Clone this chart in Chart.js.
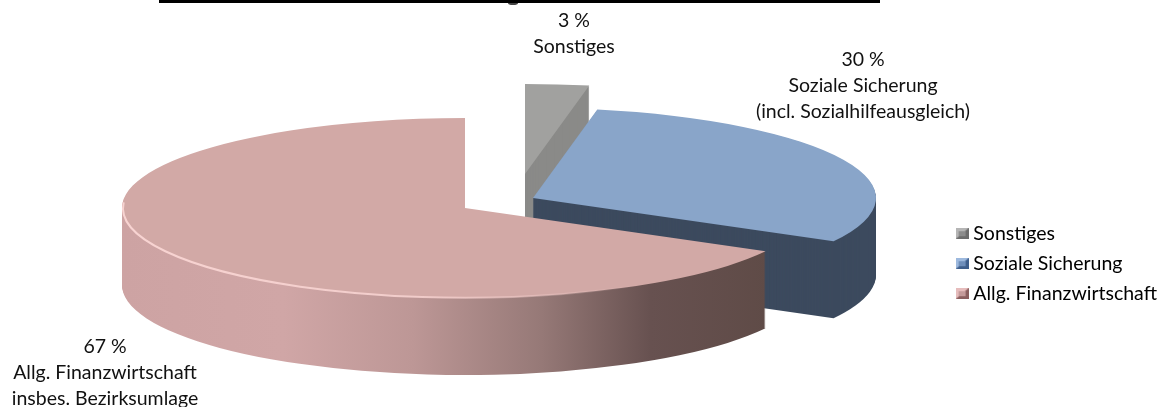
<!DOCTYPE html>
<html>
<head>
<meta charset="utf-8">
<title>Ausgaben</title>
<script src="https://cdn.jsdelivr.net/npm/chart.js@4"></script>
<style>
  html, body { margin: 0; padding: 0; background: #fff; }
  #wrap { width: 1160px; height: 407px; position: relative; }
</style>
</head>
<body>
<div id="wrap"><canvas id="myChart"></canvas></div>
<script>
  'use strict';

  /* Data */
  const categories = ['Sonstiges', 'Soziale Sicherung', 'Allg. Finanzwirtschaft'];
  const values = [3, 30, 67];
  const labelNotes = [
    ['Sonstiges'],
    ['Soziale Sicherung', '(incl. Sozialhilfeausgleich)'],
    ['Allg. Finanzwirtschaft', 'insbes. Bezirksumlage']
  ];

  /* Look */
  const FONT = 'Lato, "Open Sans", sans-serif';
  const FONT_SIZE = 19.5;
  const topColors = ['#a1a19f', '#89a5c9', '#d2a9a6'];
  const sideColors = ['#8a8a88', '#3c4a5e', null];
  const swatchColors = [
    ['#b5b5b5', '#6d6d6d', '#8c8c8c'],
    ['#9db9de', '#3f5f8c', '#6f8fbb'],
    ['#e6bcbc', '#8a5f5f', '#c49a9a']
  ];
  const squash = 90 / 343;
  const depth = 77;
  const pieCenter = [465, 208];
  // how far each slice is pulled out of the pie, in pixels on screen
  const explode = [[60, -34], [68, -10], [0, 0]];
  const labelAnchors = [[574, 21], [863, 60], [105, 347]];

  function makeSwatch(colors) {
    const c = document.createElement('canvas');
    c.width = 13;
    c.height = 11;
    const g = c.getContext('2d');
    g.fillStyle = colors[2];
    g.fillRect(0, 0, 13, 11);
    g.fillStyle = colors[0];
    g.beginPath();
    g.moveTo(0, 0); g.lineTo(13, 0); g.lineTo(6.5, 5.5); g.lineTo(0, 11);
    g.fill();
    g.fillStyle = colors[1];
    g.beginPath();
    g.moveTo(6.5, 5.5); g.lineTo(13, 0); g.lineTo(13, 11); g.lineTo(0, 11);
    g.fill();
    g.fillStyle = colors[2];
    g.fillRect(3, 3, 7, 5);
    return c;
  }
  const swatches = swatchColors.map(makeSwatch);

  function sectorPath(ctx, arc) {
    ctx.beginPath();
    ctx.moveTo(arc.x, arc.y);
    ctx.arc(arc.x, arc.y, arc.outerRadius, arc.startAngle, arc.endAngle);
    ctx.closePath();
  }

  function squashAround(ctx, arc) {
    ctx.translate(arc.x, arc.y);
    ctx.scale(1, squash);
    ctx.translate(-arc.x, -arc.y);
  }

  function pinkSide(ctx, arc) {
    // the context is shifted by the chart's own centre, keep the gradient on the slice
    const left = arc.x - arc.outerRadius;
    const grad = ctx.createLinearGradient(left, 0, left + 645, 0);
    grad.addColorStop(0, '#cda3a3');
    grad.addColorStop(0.25, '#d0a6a6');
    grad.addColorStop(0.45, '#bd9796');
    grad.addColorStop(0.65, '#967977');
    grad.addColorStop(0.82, '#675150');
    grad.addColorStop(1, '#5f4b47');
    return grad;
  }

  const pie3d = {
    id: 'pie3d',
    afterLayout(chart) {
      chart.legend.left += 7;
    },
    // the library's arcs are drawn here, each one on its own side wall
    beforeDatasetDraw(chart, args) {
      const ctx = chart.ctx;
      args.meta.data.forEach(function (arc, i) {
        ctx.save();
        ctx.translate(pieCenter[0] - arc.x + explode[i][0], pieCenter[1] - arc.y + explode[i][1]);

        ctx.fillStyle = sideColors[i] || pinkSide(ctx, arc);
        for (let d = depth; d > 0; d--) {
          ctx.save();
          ctx.translate(0, d);
          squashAround(ctx, arc);
          sectorPath(ctx, arc);
          ctx.restore();
          ctx.fill();
        }

        ctx.save();
        squashAround(ctx, arc);
        arc.draw(ctx);
        ctx.restore();

        // light edge along the front of the big slice
        if (i === 2) {
          ctx.save();
          squashAround(ctx, arc);
          ctx.beginPath();
          ctx.arc(arc.x, arc.y, arc.outerRadius - 1, arc.startAngle, Math.PI * 1.02);
          ctx.restore();
          const left = arc.x - arc.outerRadius;
          const shine = ctx.createLinearGradient(left, 0, left + 520, 0);
          shine.addColorStop(0, 'rgba(248,212,210,1)');
          shine.addColorStop(0.55, 'rgba(248,212,210,0.85)');
          shine.addColorStop(1, 'rgba(248,212,210,0)');
          ctx.strokeStyle = shine;
          ctx.lineWidth = 2;
          ctx.stroke();
        }
        ctx.restore();
      });
      return false;
    },
    afterDraw(chart) {
      const ctx = chart.ctx;
      ctx.save();
      // rule left over from the cropped headline, with the tail of one letter
      ctx.fillStyle = '#000';
      ctx.fillRect(159, 0, 721, 3);
      ctx.fillStyle = '#444';
      ctx.beginPath();
      ctx.ellipse(513, 3, 5, 2, 0, 0, Math.PI);
      ctx.fill();

      ctx.fillStyle = '#111';
      ctx.font = FONT_SIZE + 'px ' + FONT;
      ctx.textAlign = 'center';
      ctx.textBaseline = 'middle';
      values.forEach(function (v, i) {
        const lines = [v + ' %'].concat(labelNotes[i]);
        lines.forEach(function (line, n) {
          ctx.fillText(line, labelAnchors[i][0], labelAnchors[i][1] + n * 26);
        });
      });
      ctx.restore();
    }
  };

  new Chart(document.getElementById('myChart'), {
    type: 'pie',
    data: {
      labels: categories,
      datasets: [{
        data: values,
        backgroundColor: topColors,
        borderWidth: 0,
        radius: 343
      }]
    },
    options: {
      responsive: true,
      maintainAspectRatio: false,
      animation: false,
      events: [],
      layout: { padding: { left: 0, right: 0, top: 0, bottom: 93 } },
      plugins: {
        tooltip: { enabled: false },
        legend: {
          position: 'right',
          align: 'end',
          labels: {
            color: '#111',
            font: { family: FONT, size: FONT_SIZE },
            boxWidth: 3,
            padding: 10.5,
            usePointStyle: true,
            generateLabels: function () {
              return categories.map(function (name, i) {
                return { text: name, pointStyle: swatches[i], index: i, hidden: false };
              });
            }
          }
        }
      }
    },
    plugins: [pie3d]
  });
</script>
</body>
</html>
